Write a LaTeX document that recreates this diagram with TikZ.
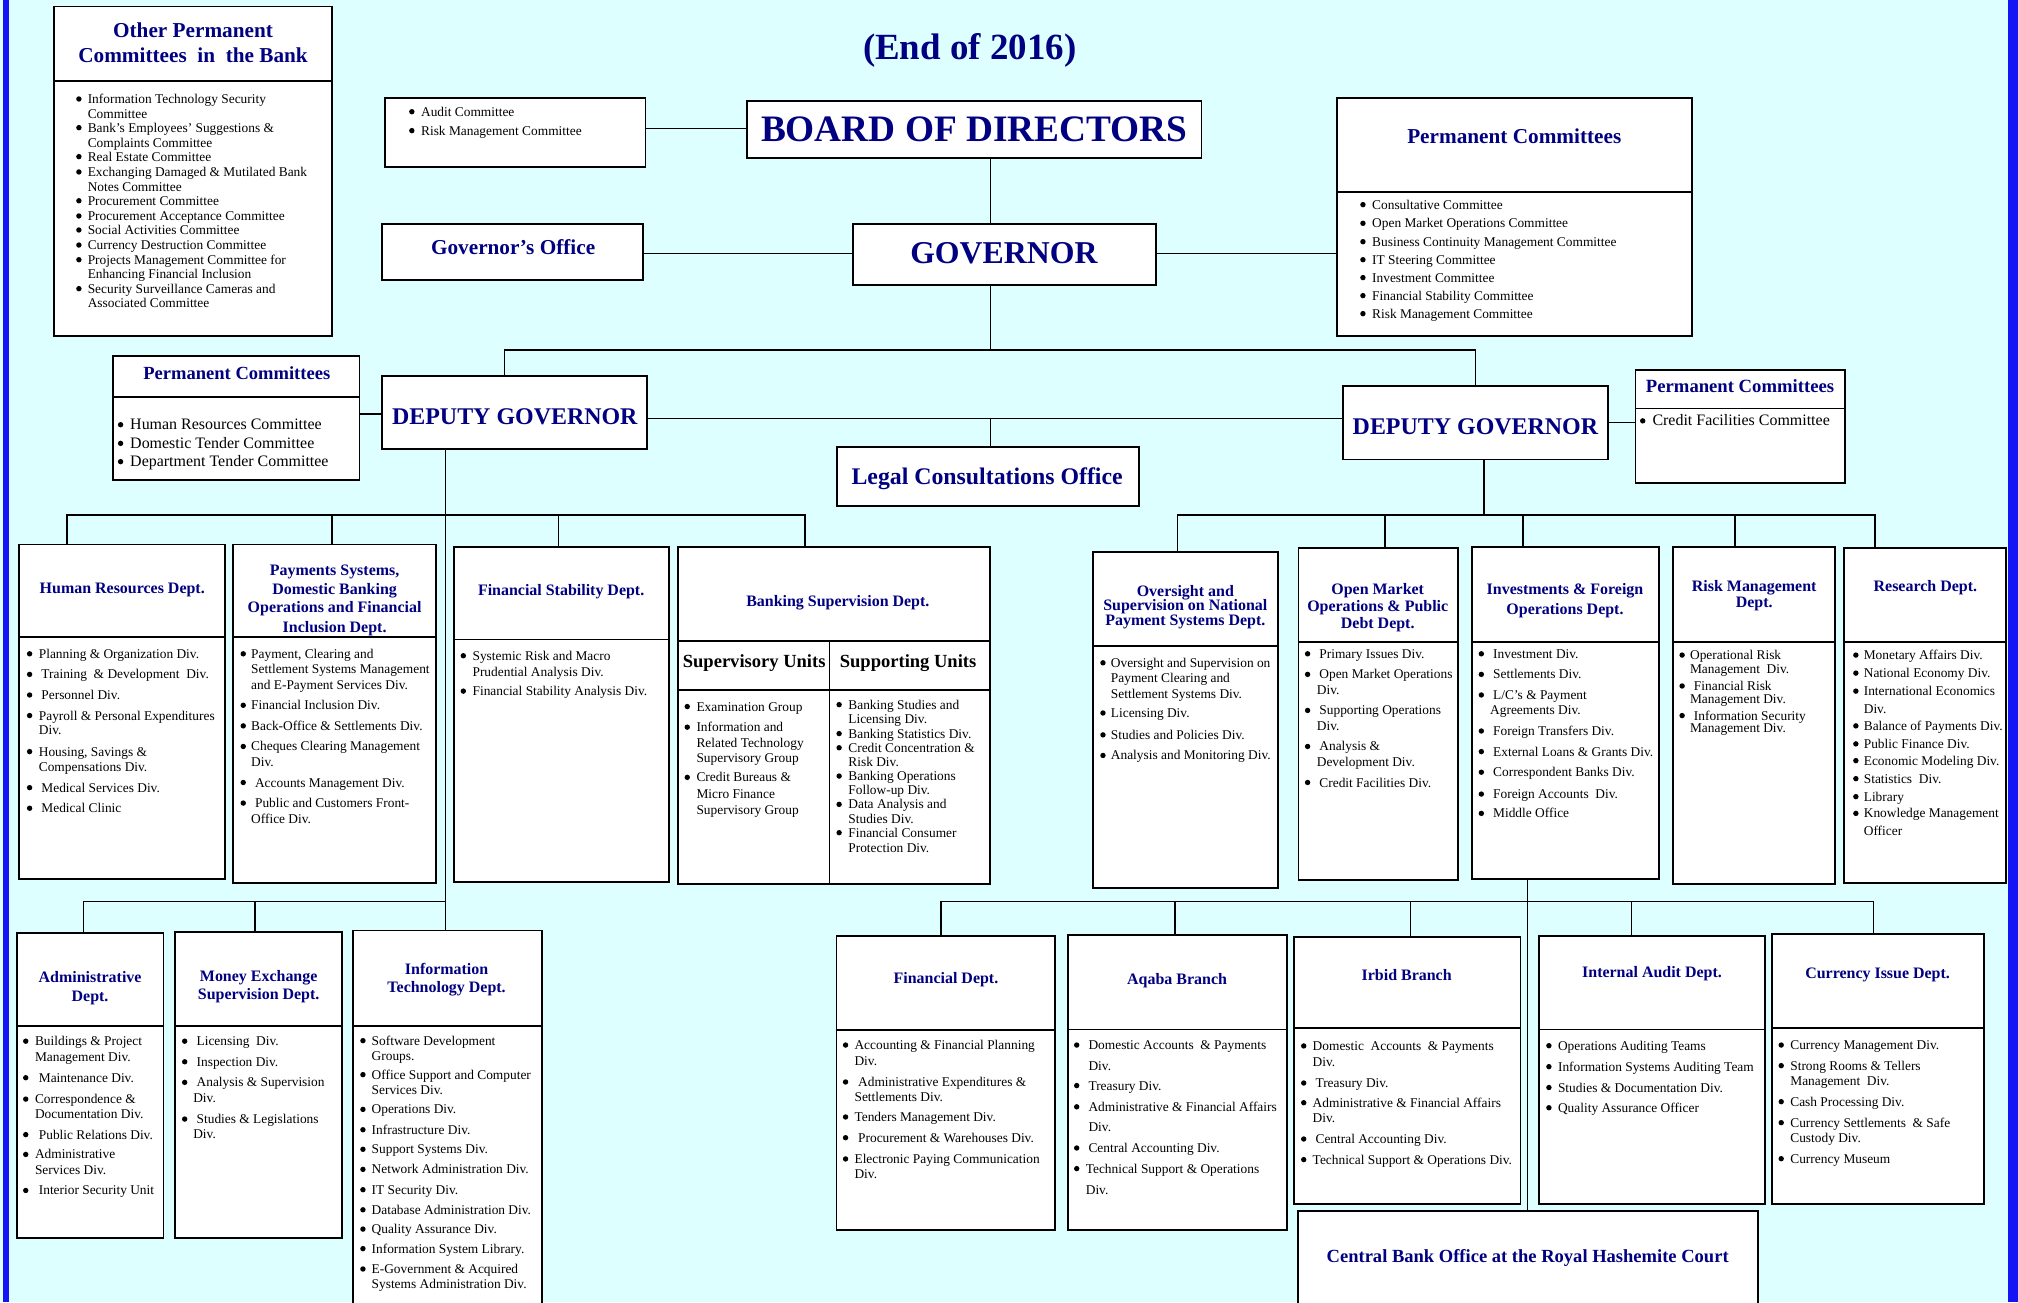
\documentclass[tikz,border=0pt]{standalone}
\usepackage{fontspec}
\setmainfont{Liberation Serif}
\definecolor{navy}{RGB}{0,0,128}
\definecolor{bgc}{RGB}{222,255,255}
\definecolor{barc}{RGB}{20,20,245}
\newcounter{nn}
\tikzset{
 box/.style={draw, fill=white, line width=1.4pt, inner sep=0pt, rectangle},
 dv/.style={line width=1.3pt},
 cn/.style={line width=1.1pt},
 lst/.style={anchor=base west, inner sep=0pt, yshift=-3.5pt, font=\fontsize{10.4}{12}\selectfont},
 lstb/.style={yshift=-0.4pt, font=\fontsize{12.4}{14}\selectfont},
 tt/.style={anchor=base, inner sep=0pt, text=navy, font=\bfseries\fontsize{#1}{#1}\selectfont, yshift={-0.34*#1}},
 tk/.style={anchor=base, inner sep=0pt, text=black, font=\bfseries\fontsize{#1}{#1}\selectfont, yshift={-0.34*#1}},
}
\newcommand\bx[6]{\node[box, minimum width={#4-#2}, minimum height={#5-#3}] (#1) at ({(#2+#4)/2},{(#3+#5)/2}) {};%
 \if\relax\detokenize{#6}\relax\else\draw[dv] (#2,#6) -- (#4,#6);\fi}
\newcommand\li[4][]{\stepcounter{nn}\node[lst,#1] (n\arabic{nn}) at (#2,#3) {#4};}
\newcommand\bi[5][]{\fill (#2,#4) circle (2.1pt); \li[#1]{#3}{#4}{#5}}
\newcommand\ti[5][tt]{\stepcounter{nn}\node[#1=#2] (n\arabic{nn}) at (#3,#4) {#5};}
\begin{document}
\begin{tikzpicture}[x=1pt,y=-1pt]
\useasboundingbox (0,0) rectangle (1568,1012);
\clip (0,0) rectangle (1568,1012);
\fill[bgc] (0,0) rectangle (1568,1012);
\fill[barc] (2.5,0) rectangle (7,1012);
\fill[barc] (1560,0) rectangle (1568,1012);

% ---------- boxes ----------
\bx{opc}{42}{5}{258}{261}{63}
\bx{audit}{299}{76}{501.5}{129.5}{}
\bx{bod}{580.6}{78.2}{933.5}{122.5}{}
\bx{pcr}{1039}{76}{1314.4}{261}{149}
\bx{goff}{297}{173.8}{499.4}{217.6}{}
\bx{gov}{662.5}{174.3}{898}{221.4}{}
\bx{pcl}{88}{276.6}{279.4}{373}{308.7}
\bx{dgl}{297}{292}{503}{349}{}
\bx{lco}{650.4}{347.6}{885}{393}{}
\bx{dgr}{1043.5}{300}{1249.5}{357}{}
\bx{pcfr}{1270.7}{287.5}{1433.3}{375}{317.3}
\bx{hr}{15}{423}{175}{683}{495}
\bx{pay}{181}{423}{339}{686}{495}
\bx{fs}{353}{425}{520}{685}{497}
\bx{bs}{527}{425}{769}{687}{498}
\draw[dv] (527,536) -- (769,536);
\draw[dv] (644.6,498) -- (644.6,687);
\bx{ov}{849.4}{429}{992.7}{690}{502}
\bx{omo}{1009}{425.5}{1133}{684}{499}
\bx{inv}{1144}{425}{1289}{683}{499}
\bx{risk}{1300}{425}{1426}{687}{499}
\bx{res}{1433}{426}{1558.5}{686}{499}
\bx{adm}{13}{725}{127}{962}{797}
\bx{mx}{136}{724}{266}{962}{797}
\bx{it}{274}{723}{421}{1030}{797}
\bx{fin}{650}{727.3}{820}{955.7}{800.3}
\bx{aq}{829.6}{726.5}{1000}{955.7}{800}
\bx{irb}{1005.5}{727.8}{1181.4}{935.5}{799}
\bx{ia}{1195.8}{727.3}{1371.1}{935.5}{799.8}
\bx{ci}{1376.8}{726}{1541.6}{935.5}{799}
\bx{cbo}{1008.3}{941}{1366.2}{1030}{}

% ---------- connectors ----------
\draw[cn] (audit.east |- 0,99.7) -- (bod.west |- 0,99.7);
\draw[cn] (769.4,0 |- bod.south) -- (769.4,0 |- gov.north);
\draw[cn] (goff.east |- 0,197) -- (gov.west |- 0,197);
\draw[cn] (gov.east |- 0,197) -- (pcr.west |- 0,197);
\coordinate (busA) at (769.4,272);
\draw[cn] (769.4,0 |- gov.south) -- (busA);
\draw[cn] (392,0 |- dgl.north) -- (392,272) -- (1146.4,272) -- (1146.4,0 |- dgr.north);
\draw[cn] (pcl.east |- 0,321.7) -- (dgl.west |- 0,321.7);
\draw[cn] (dgl.east |- 0,325) -- (dgr.west |- 0,325);
\coordinate (lcoJ) at (769.4,325);
\draw[cn] (lcoJ) -- (769.4,0 |- lco.north);
\draw[cn] (dgr.east |- 0,328.4) -- (pcfr.west |- 0,328.4);
% left deputy
\draw[cn] (346,0 |- dgl.south) -- (346,0 |- it.north);
\draw[cn] (52,0 |- hr.north) -- (52,400) -- (625.5,400) -- (625.5,0 |- bs.north);
\draw[cn] (258,400) -- (258,0 |- pay.north);
\draw[cn] (434,400) -- (434,0 |- fs.north);
\draw[cn] (65,0 |- adm.north) -- (65,700.6) -- (346,700.6);
\draw[cn] (198,700.6) -- (198,0 |- mx.north);
% right deputy
\draw[cn] (1153,0 |- dgr.south) -- (1153,400);
\draw[cn] (915,0 |- ov.north) -- (915,400) -- (1457,400) -- (1457,0 |- res.north);
\draw[cn] (1076,400) -- (1076,0 |- omo.north);
\draw[cn] (1183.5,400) -- (1183.5,0 |- inv.north);
\draw[cn] (1348,400) -- (1348,0 |- risk.north);
\draw[cn] (1187,0 |- inv.south) -- (1187,0 |- cbo.north);
\draw[cn] (731,0 |- fin.north) -- (731,700.6) -- (1455.6,700.6) -- (1455.6,0 |- ci.north);
\draw[cn] (913,700.6) -- (913,0 |- aq.north);
\draw[cn] (1096,700.6) -- (1096,0 |- irb.north);
\draw[cn] (1267.7,700.6) -- (1267.7,0 |- ia.north);

% ---------- top titles ----------
\ti{28.7}{753.5}{36.3}{(End of 2016)}
\ti{29}{757}{100.2}{BOARD OF DIRECTORS}
\ti{24.7}{780}{196}{GOVERNOR}
\ti{16.5}{398.7}{192}{Governor’s Office}
\ti{18.6}{400}{323.8}{DEPUTY GOVERNOR}
\ti{18.6}{1146.4}{331.5}{DEPUTY GOVERNOR}
\ti{18.5}{767}{370.4}{Legal Consultations Office}
\ti{16.5}{150}{23.3}{Other Permanent}
\ti{16.5}{150}{42.7}{Committees\ \ in\ \ the Bank}
\ti{16.5}{1176.6}{106}{Permanent Committees}
\ti{14.4}{184}{289.6}{Permanent Committees}
\ti{14.5}{1352}{300.4}{Permanent Committees}
\ti{14.4}{1187}{976}{Central Bank Office at the Royal Hashemite Court}

% OPC list
\bi{61.3}{68}{76.9}{Information Technology Security}
\li{68}{88.3}{Committee}
\bi{61.3}{68}{99.2}{Bank's Employees' Suggestions \&}
\li{68}{110.9}{Complaints Committee}
\bi{61.3}{68}{121.7}{Real Estate Committee}
\bi{61.3}{68}{133.6}{Exchanging Damaged \& Mutilated Bank}
\li{68}{145}{Notes Committee}
\bi{61.3}{68}{156}{Procurement Committee}
\bi{61.3}{68}{167.8}{Procurement Acceptance Committee}
\bi{61.3}{68}{178.7}{Social Activities Committee}
\bi{61.3}{68}{190.4}{Currency Destruction Committee}
\bi{61.3}{68}{201.8}{Projects Management Committee for}
\li{68}{212.9}{Enhancing Financial Inclusion}
\bi{61.3}{68}{224.3}{Security Surveillance Cameras and}
\li{68}{235.2}{Associated Committee}

% audit
\bi{320}{327}{86.8}{Audit Committee}
\bi{320}{327}{101.5}{Risk Management Committee}

% PC right
\bi{1059}{1066}{159}{Consultative Committee}
\bi{1059}{1066}{173.5}{Open Market Operations Committee}
\bi{1059}{1066}{187.8}{Business Continuity Management Committee}
\bi{1059}{1066}{201.8}{IT Steering Committee}
\bi{1059}{1066}{215.7}{Investment Committee}
\bi{1059}{1066}{229.7}{Financial Stability Committee}
\bi{1059}{1066}{243.7}{Risk Management Committee}

% PC left
\bi[lstb]{93.7}{101}{330}{Human Resources Committee}
\bi[lstb]{93.7}{101}{344.5}{Domestic Tender Committee}
\bi[lstb]{93.7}{101}{358.7}{Department Tender Committee}
% PC far right
\bi[lstb]{1276.4}{1283.8}{327}{Credit Facilities Committee}

% ---------- HR ----------
\ti{12.4}{95}{457}{Human Resources Dept.}
\bi{23}{30}{508}{Planning \& Organization Div.}
\bi{23}{32}{524}{Training\ \ \& Development\ \ Div.}
\bi{23}{32}{540}{Personnel Div.}
\bi{23}{30}{556}{Payroll \& Personal Expenditures}
\li{30}{567}{Div.}
\bi{23}{30}{584}{Housing, Savings \&}
\li{30}{596}{Compensations Div.}
\bi{23}{32}{612}{Medical Services Div.}
\bi{23}{32}{628}{Medical Clinic}

% ---------- Payments ----------
\ti{12.4}{260}{443}{Payments Systems,}
\ti{12.4}{260}{458}{Domestic Banking}
\ti{12.4}{260}{472}{Operations and Financial}
\ti{12.4}{260}{487}{Inclusion Dept.}
\bi{189}{195}{508}{Payment, Clearing and}
\li{195}{520}{Settlement Systems Management}
\li{195}{532}{and E-Payment Services Div.}
\bi{189}{195}{548}{Financial Inclusion Div.}
\bi{189}{195}{564}{Back-Office \& Settlements Div.}
\bi{189}{195}{580}{Cheques Clearing Management}
\li{195}{592}{Div.}
\bi{189}{198}{608}{Accounts Management Div.}
\bi{189}{198}{624}{Public and Customers Front-}
\li{195}{636}{Office Div.}

% ---------- Financial Stability ----------
\ti{12.4}{436}{458.5}{Financial Stability Dept.}
\bi{360}{367}{509.5}{Systemic Risk and Macro}
\li{367}{522}{Prudential Analysis Div.}
\bi{360}{367}{537}{Financial Stability Analysis Div.}

% ---------- Banking Supervision ----------
\ti{12.4}{651}{467}{Banking Supervision Dept.}
\ti[tk]{14.4}{586}{514}{Supervisory Units}
\ti[tk]{14.4}{705.6}{514}{Supporting Units}
\bi{534}{541}{549}{Examination Group}
\bi{534}{541}{565}{Information and}
\li{541}{577}{Related Technology}
\li{541}{589}{Supervisory Group}
\bi{534}{541}{604}{Credit Bureaus \&}
\li{541}{617}{Micro Finance}
\li{541}{629}{Supervisory Group}
\bi{652}{659}{547.5}{Banking Studies and}
\li{659}{558.5}{Licensing Div.}
\bi{652}{659}{570}{Banking Statistics Div.}
\bi{652}{659}{581}{Credit Concentration \&}
\li{659}{592}{Risk Div.}
\bi{652}{659}{603}{Banking Operations}
\li{659}{614}{Follow-up Div.}
\bi{652}{659}{625}{Data Analysis and}
\li{659}{636}{Studies Div.}
\bi{652}{659}{647}{Financial Consumer}
\li{659}{659}{Protection Div.}

% ---------- Oversight ----------
\ti{12.4}{921}{459}{Oversight and}
\ti{12.4}{921}{470}{Supervision on National}
\ti{12.4}{921}{482}{Payment Systems Dept.}
\bi{857}{863}{515}{Oversight and Supervision on}
\li{863}{527}{Payment Clearing and}
\li{863}{539}{Settlement Systems Div.}
\bi{857}{863}{554}{Licensing Div.}
\bi{857}{863}{571}{Studies and Policies Div.}
\bi{857}{863}{587}{Analysis and Monitoring Div.}

% ---------- OMO ----------
\ti{12.4}{1070.5}{458}{Open Market}
\ti{12.4}{1070.5}{471}{Operations \& Public}
\ti{12.4}{1070.5}{484}{Debt Dept.}
\bi{1016}{1025}{508}{Primary Issues Div.}
\bi{1016}{1025}{524}{Open Market Operations}
\li{1023}{536}{Div.}
\bi{1016}{1025}{552}{Supporting Operations}
\li{1023}{564}{Div.}
\bi{1016}{1025}{580}{Analysis \&}
\li{1023}{592}{Development Div.}
\bi{1016}{1025}{608}{Credit Facilities Div.}

% ---------- Investments ----------
\ti{12.4}{1216}{458}{Investments \& Foreign}
\ti{12.4}{1216}{473}{Operations Dept.}
\bi{1151}{1160}{508}{Investment Div.}
\bi{1151}{1160}{524}{Settlements Div.}
\bi{1151}{1160}{540}{L/C’s \& Payment}
\li{1157.7}{552}{Agreements Div.}
\bi{1151}{1160}{568}{Foreign Transfers Div.}
\bi{1151}{1160}{584}{External Loans \& Grants Div.}
\bi{1151}{1160}{600}{Correspondent Banks Div.}
\bi{1151}{1160}{617}{Foreign Accounts\ \ Div.}
\bi{1151}{1160}{632}{Middle Office}

% ---------- Risk ----------
\ti{12.4}{1363}{455}{Risk Management}
\ti{12.4}{1363}{468}{Dept.}
\bi{1307}{1313}{509}{Operational Risk}
\li{1313}{520}{Management\ \ Div.}
\bi{1307}{1316}{533}{Financial Risk}
\li{1313}{543}{Management Div.}
\bi{1307}{1316}{556}{Information Security}
\li{1313}{566}{Management Div.}

% ---------- Research ----------
\ti{12.4}{1496}{455}{Research Dept.}
\bi{1442}{1448}{509}{Monetary Affairs Div.}
\bi{1442}{1448}{523}{National Economy Div.}
\bi{1442}{1448}{537}{International Economics}
\li{1448}{551}{Div.}
\bi{1442}{1448}{564}{Balance of Payments Div.}
\bi{1442}{1448}{578}{Public Finance Div.}
\bi{1442}{1448}{591}{Economic Modeling Div.}
\bi{1442}{1448}{605}{Statistics\ \ Div.}
\bi{1442}{1448}{619}{Library}
\bi{1442}{1448}{632}{Knowledge Management}
\li{1448}{646}{Officer}

% ---------- Administrative ----------
\ti{12.4}{70}{759.5}{Administrative}
\ti{12.4}{70}{774}{Dept.}
\bi{20}{27}{809}{Buildings \& Project}
\li{27}{821}{Management Div.}
\bi{20}{30}{837.4}{Maintenance Div.}
\bi{20}{27}{854}{Correspondence \&}
\li{27}{865.3}{Documentation Div.}
\bi{20}{30}{881.6}{Public Relations Div.}
\bi{20}{27}{897}{Administrative}
\li{27}{909.4}{Services Div.}
\bi{20}{30}{925}{Interior Security Unit}

% ---------- Money Exchange ----------
\ti{12.4}{201}{758.4}{Money Exchange}
\ti{12.4}{201}{772.6}{Supervision Dept.}
\bi{143.5}{152.6}{809}{Licensing\ \ Div.}
\bi{143.5}{152.6}{825}{Inspection Div.}
\bi{143.5}{152.6}{841}{Analysis \& Supervision}
\li{150}{853}{Div.}
\bi{143.5}{152.6}{869.5}{Studies \& Legislations}
\li{150}{881}{Div.}

% ---------- IT ----------
\ti{12.4}{347}{753}{Information}
\ti{12.4}{347}{767}{Technology Dept.}
\bi{282}{288.6}{808.6}{Software Development}
\li{288.6}{820.5}{Groups.}
\bi{282}{288.6}{835}{Office Support and Computer}
\li{288.6}{847}{Services Div.}
\bi{282}{288.6}{862}{Operations Div.}
\bi{282}{288.6}{877.8}{Infrastructure Div.}
\bi{282}{288.6}{893}{Support Systems Div.}
\bi{282}{288.6}{908.6}{Network Administration Div.}
\bi{282}{288.6}{924.4}{IT Security Div.}
\bi{282}{288.6}{940}{Database Administration Div.}
\bi{282}{288.6}{955}{Quality Assurance Div.}
\bi{282}{288.6}{970.2}{Information System Library.}
\bi{282}{288.6}{986}{E-Government \& Acquired}
\li{288.6}{997.7}{Systems Administration Div.}

% ---------- Financial Dept ----------
\ti{12.4}{735}{760}{Financial Dept.}
\bi{657}{663.8}{812}{Accounting \& Financial Planning}
\li{663.8}{824}{Div.}
\bi{657}{666.6}{840.7}{Administrative Expenditures \&}
\li{663.8}{852}{Settlements Div.}
\bi{657}{663.8}{867.9}{Tenders Management Div.}
\bi{657}{666.6}{884}{Procurement \& Warehouses Div.}
\bi{657}{663.8}{900.5}{Electronic Paying Communication}
\li{663.8}{912.2}{Div.}

% ---------- Aqaba ----------
\ti{12.4}{914.6}{761}{Aqaba Branch}
\bi{836.6}{845.6}{812}{Domestic Accounts\ \ \& Payments}
\li{845.6}{828}{Div.}
\bi{836.6}{845.6}{843.5}{Treasury Div.}
\bi{836.6}{845.6}{860}{Administrative \& Financial Affairs}
\li{845.6}{876}{Div.}
\bi{836.6}{845.6}{892}{Central Accounting Div.}
\bi{836.6}{843.5}{908}{Technical Support \& Operations}
\li{843.5}{924.4}{Div.}

% ---------- Irbid ----------
\ti{12.4}{1093}{757.8}{Irbid Branch}
\bi{1013}{1019.8}{812.7}{Domestic\ \ Accounts\ \ \& Payments}
\li{1019.8}{825}{Div.}
\bi{1013}{1022}{841.5}{Treasury Div.}
\bi{1013}{1019.8}{856.8}{Administrative \& Financial Affairs}
\li{1019.8}{868.7}{Div.}
\bi{1013}{1022}{885}{Central Accounting Div.}
\bi{1013}{1019.8}{901}{Technical Support \& Operations Div.}

% ---------- Internal Audit ----------
\ti{12.4}{1283.6}{755}{Internal Audit Dept.}
\bi{1203.5}{1210.4}{812.5}{Operations Auditing Teams}
\bi{1203.5}{1210.4}{828.8}{Information Systems Auditing Team}
\bi{1203.5}{1210.4}{845}{Studies \& Documentation Div.}
\bi{1203.5}{1210.4}{860.7}{Quality Assurance Officer}

% ---------- Currency Issue ----------
\ti{12.4}{1458.9}{755.8}{Currency Issue Dept.}
\bi{1384}{1390.9}{812}{Currency Management Div.}
\bi{1384}{1390.9}{828}{Strong Rooms \& Tellers}
\li{1390.9}{839.7}{Management\ \ Div.}
\bi{1384}{1390.9}{856}{Cash Processing Div.}
\bi{1384}{1390.9}{872.3}{Currency Settlements\ \ \& Safe}
\li{1390.9}{884}{Custody Div.}
\bi{1384}{1390.9}{900.3}{Currency Museum}
\end{tikzpicture}
\end{document}
